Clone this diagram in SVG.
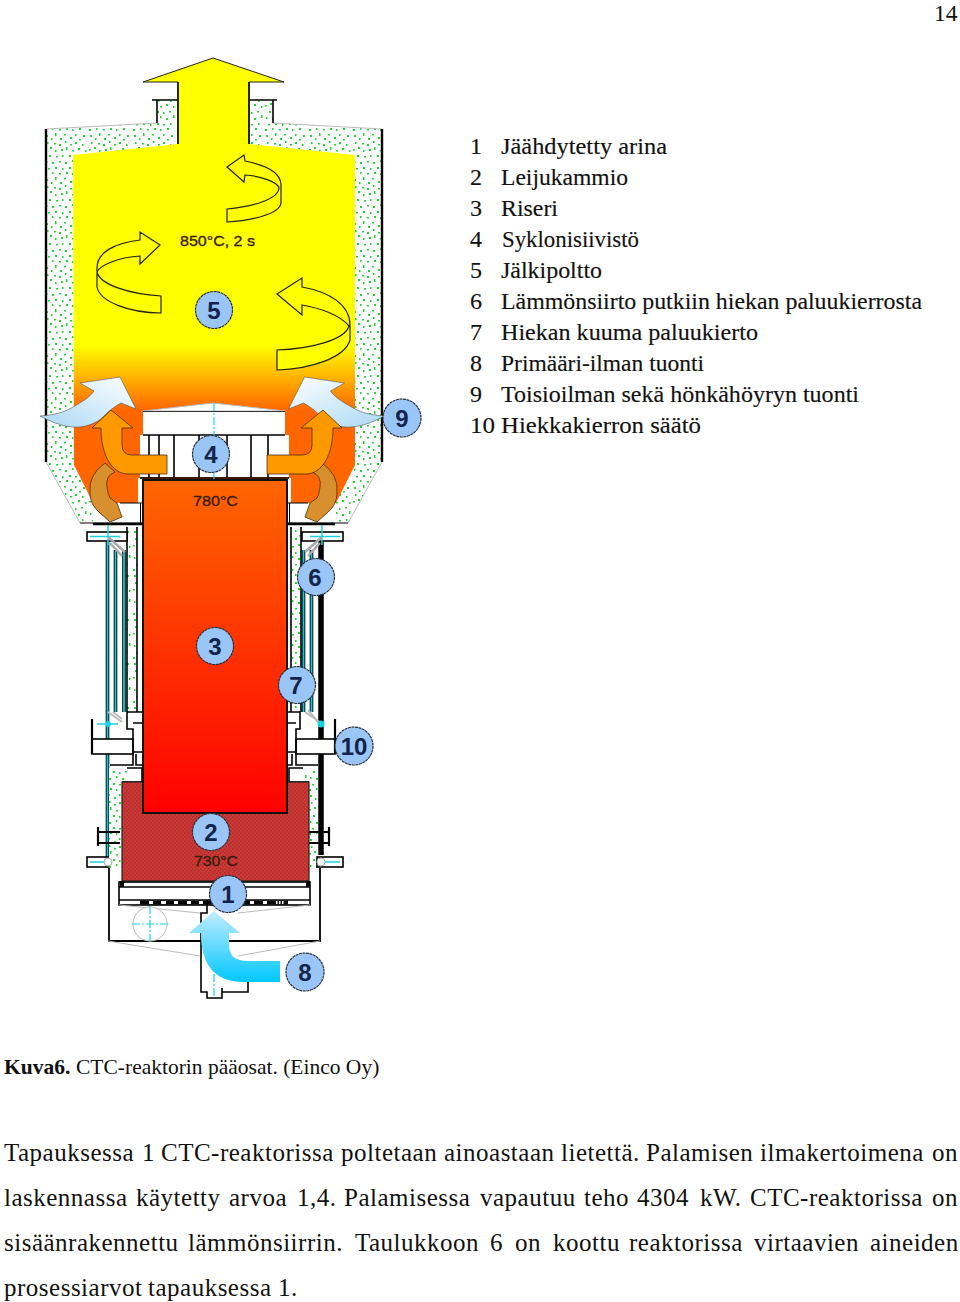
<svg xmlns="http://www.w3.org/2000/svg" width="960" height="1302" viewBox="0 0 960 1302">
<style>
.k{stroke:#000;fill:none;stroke-width:1.6}
.kw{stroke:#000;fill:#fff;stroke-width:1.6}
.g{stroke:#bbb;fill:none;stroke-width:1}
.c{stroke:#19d3e0;fill:none;stroke-width:1.5}
.cd{stroke:#19d3e0;fill:none;stroke-width:1.2;stroke-dasharray:8 2 2 2}
.sw{fill:#ffff00;stroke:#222;stroke-width:1.2}
.ba{fill:#99c6f7;stroke:#2a3340;stroke-width:1.2;stroke-dasharray:3 .6}
.bt{font:bold 24px "Liberation Sans",Arial,sans-serif;fill:#14234a;text-anchor:middle}
.t{font:15px "Liberation Sans",Arial,sans-serif;fill:#3a1c10;stroke:#3a1c10;stroke-width:.35}
.l{font:24px "Liberation Serif","Times New Roman",serif;fill:#111;stroke:#111;stroke-width:.15}
.b{font:25px "Liberation Serif","Times New Roman",serif;fill:#111;letter-spacing:.5px}
.cap{font:21.500px "Liberation Serif","Times New Roman",serif;fill:#111}
</style>
<defs>
<pattern id="sp" width="44" height="44" patternUnits="userSpaceOnUse">
<rect width="44" height="44" fill="#fdfdfd"/>
<g fill="#22d436">
<rect x="2" y="3" width="2" height="2"/><rect x="7" y="6" width="1.500" height="2"/><rect x="11" y="1" width="1.500" height="3"/><rect x="16" y="6" width="2" height="2"/><rect x="20" y="2" width="2" height="1.500"/><rect x="26" y="5" width="2" height="2"/><rect x="31" y="2" width="1.500" height="2"/><rect x="35" y="7" width="2" height="1.500"/><rect x="39" y="3" width="2" height="2"/>
<rect x="3" y="10" width="1.500" height="2"/><rect x="10" y="11" width="2" height="1.500"/><rect x="15" y="12" width="2" height="2"/><rect x="21" y="9" width="1.500" height="2"/><rect x="26" y="12" width="2" height="1.500"/><rect x="31" y="10" width="2" height="2"/><rect x="38" y="12" width="1.500" height="2"/>
<rect x="1" y="17" width="2" height="1.500"/><rect x="6" y="15" width="2" height="2"/><rect x="11" y="18" width="1.500" height="2"/><rect x="17" y="17" width="2" height="2"/><rect x="22" y="15" width="1.500" height="3"/><rect x="28" y="18" width="2" height="1.500"/><rect x="34" y="16" width="2" height="2"/><rect x="41" y="18" width="1.500" height="2"/>
<rect x="5" y="23" width="2" height="2"/><rect x="12" y="24" width="2" height="1.500"/><rect x="18" y="23" width="1.500" height="2"/><rect x="25" y="23" width="2" height="2"/><rect x="31" y="24" width="1.500" height="2"/><rect x="37" y="23" width="2" height="1.500"/>
<rect x="2" y="29" width="1.500" height="2"/><rect x="8" y="30" width="2" height="2"/><rect x="15" y="29" width="2" height="1.500"/><rect x="21" y="30" width="2" height="2"/><rect x="28" y="28" width="1.500" height="2"/><rect x="34" y="30" width="2" height="2"/><rect x="41" y="27" width="1.500" height="3"/>
<rect x="4" y="36" width="2" height="1.500"/><rect x="11" y="35" width="2" height="2"/><rect x="18" y="36" width="1.500" height="2"/><rect x="25" y="35" width="2" height="2"/><rect x="31" y="36" width="2" height="1.500"/><rect x="38" y="35" width="1.500" height="2"/>
<rect x="1" y="41" width="2" height="2"/><rect x="8" y="40" width="1.500" height="2"/><rect x="15" y="41" width="2" height="1.500"/><rect x="22" y="40" width="2" height="2"/><rect x="28" y="41" width="1.500" height="2"/><rect x="35" y="40" width="2" height="2"/>
</g>
</pattern>
<pattern id="bed" width="4" height="4" patternUnits="userSpaceOnUse">
<rect width="4" height="4" fill="#cc3a36"/><rect x="0" y="0" width="1.600" height="1.600" fill="#b02a2c"/><rect x="2" y="2" width="1.600" height="1.600" fill="#b02a2c"/>
</pattern>
<linearGradient id="ch" gradientUnits="userSpaceOnUse" x1="0" y1="345" x2="0" y2="410">
<stop offset="0" stop-color="#ffff00"/><stop offset="1" stop-color="#ff6600"/>
</linearGradient>
<linearGradient id="ri" x1="0" y1="0" x2="0" y2="1">
<stop offset="0" stop-color="#ff6600"/><stop offset="1" stop-color="#ff0000"/>
</linearGradient>
<linearGradient id="cold" x1="0" y1="0" x2="0" y2="1">
<stop offset="0" stop-color="#c4ecff"/><stop offset="1" stop-color="#00c8ff"/>
</linearGradient>
<linearGradient id="air" x1="0" y1="1" x2="1" y2="0">
<stop offset="0" stop-color="#a9d8f5"/><stop offset="1" stop-color="#ffffff"/>
</linearGradient>
<path id="oa" d="M111 410 L133 428 L122 428 L122 445 Q122 455 132 455 L167 455 L167 474 L128 474 C112 474 101 455 101 428 L92 428 Z" fill="#ff9900" stroke="#4a3010" stroke-width=".8"/>
<path id="ba" d="M105 463 L115 472 Q105 476 107 487 Q108 495 110 498 L117 503 L122 517 L110 522 L100 513 Q90 505 90 493 Q88 475 105 463 Z" fill="#d8902e" stroke="#4a3010" stroke-width=".8"/>
<path id="aa" d="M40 416 C55 415 65 412 73 407 C82 402 90 397 94 391 L80 383 L120 377 L136 409 L121 403 C112 408 107 413 103 417 C97 423 85 428 73 427 C60 426 50 421 40 416 Z" fill="url(#air)" stroke="#555" stroke-width=".6"/>
</defs>
<rect width="960" height="1302" fill="#fff"/>

<g id="reactor">
<path d="M46 129 L157 123 L157 100 L273 100 L273 123 L382 129 L382 462 L348 523 L80 523 L46 462 Z" fill="url(#sp)"/>
<path d="M46 129 L157 123 M273 123 L382 129 M46 462 L80 523 M382 462 L348 523" class="g" stroke-width="1.500"/>
<path d="M46 129 V462 M382 129 V462" stroke="#000" stroke-width="2.400" fill="none"/>
<path d="M157 100 V123 M273 100 V123 M152 100 H178 M249 100 H277" class="k"/>
<path id="chamber" d="M73 155 L178 144 L178 82 L143 82 L213 58 L284 82 L249 82 L249 144 L355 155 L355 465 L336 503 L93 503 L74 465 Z" fill="url(#ch)"/>
<path d="M178 82 V144 M249 82 V144" stroke="#111" stroke-width="1.800" fill="none"/>
<path d="M143 82 H178 M249 82 H284 M143 82 L213 58 L284 82" stroke="#222" stroke-width="1" fill="none"/>

<rect x="93" y="503" width="50" height="20" fill="#fff"/>
<rect x="287" y="503" width="49" height="20" fill="#fff"/>
<rect x="138" y="478" width="5" height="26" fill="#fff"/>
<rect x="287" y="478" width="4" height="26" fill="#fff"/>
<path d="M80 523 H142 M287 523 H348" stroke="#000" stroke-width="1"/>
<path d="M93 524 H142 M288 524 H335" stroke="#000" stroke-width="2.400"/>
<path d="M120 503 H142 M288 503 H308 M140.500 503 V523 M289.500 503 V523" stroke="#000" stroke-width="1"/>

<path d="M143 411 L213 403 L285 411 Z" fill="#fff" stroke="#bbb" stroke-width="1"/>
<rect x="143" y="411" width="142" height="24" fill="#fff"/>
<path d="M143 411.500 H285" stroke="#333" stroke-width="1"/>
<rect x="140" y="435" width="149" height="42" fill="#fff"/>
<path d="M143 435 H285 M140 478 H289 M149 435 V478 M159 435 V478 M174 435 V478 M199 435 V478 M227 435 V478 M251 435 V478 M268 435 V478" class="k"/>
<path d="M214 403 V480" class="cd"/>

<rect x="127" y="527" width="10" height="185" fill="url(#sp)"/>
<rect x="292" y="527" width="9" height="185" fill="url(#sp)"/>
<path d="M127 527 V712 M137 527 V712 M291 527 V712 M301 527 V712" class="k" stroke-width="1.200"/>
<path d="M107.500 541 V860 M115.500 550 V712 M124 550 V712 M303.500 550 V712 M311.500 550 V712" stroke="#000" stroke-width="3.600" fill="none"/>
<path d="M107.500 541 V860 M115.500 550 V712 M124 550 V712 M303.500 550 V712 M311.500 550 V712" stroke="#19c8d4" stroke-width="1.800" fill="none"/>
<path d="M321 541 V855" stroke="#000" stroke-width="5.500"/>
<rect x="87" y="532" width="40" height="9" class="kw"/>
<rect x="302" y="532" width="41" height="9" class="kw"/>
<path d="M90 536.500 H120 M310 536.500 H340 M108 525 V545 M322 525 V545" class="c"/>
<path d="M108 537 L125 552 M110 543 L122 556 M322 537 L305 552 M320 543 L308 556" stroke="#aaa" stroke-width="2.500" fill="none"/>
<path d="M108 712 L122 722 M113 712 L122 719 M321 723 L305 712 M318 722 L308 710" stroke="#bbb" stroke-width="2" fill="none"/>

<rect x="92" y="739" width="41" height="15" class="kw"/>
<path d="M92 719 V754 M127 712 H142 M127 712 V729 H133 V765 H110 M133 723 H142 M133 752 H142 M136 754 V765 H142" class="k"/>
<path d="M92 719 V754" stroke="#000" stroke-width="2.200"/>
<path d="M97 724 H118" class="c"/>
<circle cx="108" cy="724" r="3" fill="#19d3e0"/>
<rect x="296" y="739" width="39" height="15" class="kw"/>
<path d="M288 712 H300 V729 H296 V765 H318 M288 723 H296 M288 752 H296 M292 754 V765 H288" class="k"/>
<path d="M335 719 V754" stroke="#000" stroke-width="2.200"/>
<circle cx="321" cy="724" r="3.500" fill="#19d3e0"/>
<rect x="109" y="768" width="18" height="100" fill="url(#sp)"/>
<rect x="303" y="768" width="15" height="100" fill="url(#sp)"/>
<path d="M127 768 H142 V782 H122 M303 768 H289 V782 H309" class="k" stroke-width="1"/>

<rect x="122" y="782" width="187" height="99" fill="url(#bed)" stroke="#222" stroke-width="1.200"/>
<rect x="143" y="480" width="144" height="333" fill="url(#ri)" stroke="#111" stroke-width="2"/>

<path d="M98 827 V846 M98 832 H120 M98 843 H120 M329 827 V846 M309 832 H329 M309 843 H329" stroke="#000" stroke-width="2.200" fill="none"/>
<rect x="87" y="857" width="21" height="10" class="kw"/>
<rect x="317" y="857" width="26" height="10" class="kw"/>
<path d="M90 862 H108 M320 862 H340" class="c"/>
<circle cx="108" cy="862" r="4" fill="#fff" stroke="#aaa" stroke-width="1"/>
<circle cx="321" cy="862" r="4" fill="#fff" stroke="#aaa" stroke-width="1"/>

<path d="M109 868 V941 H320 V868" stroke="#000" stroke-width="1.800" fill="none"/>
<rect x="119" y="882" width="191" height="23" class="kw"/>
<rect x="120" y="881" width="4" height="6" fill="#000"/>
<rect x="306" y="881" width="4" height="6" fill="#000"/>
<path d="M119 887 H310" stroke="#000" stroke-width="1.500"/>
<path d="M119 900 H310" stroke="#000" stroke-width="1.500"/>
<rect x="140" y="900.500" width="148" height="4" fill="#000"/>
<g fill="#fff"><rect x="149" y="901" width="4" height="3"/><rect x="161" y="901" width="5" height="3"/><rect x="174" y="901" width="4" height="3"/><rect x="187" y="901" width="4" height="3"/><rect x="199" y="901" width="4" height="3"/><rect x="250" y="901" width="4" height="3"/><rect x="263" y="901" width="4" height="3"/><rect x="276" y="901" width="1.500" height="3"/><rect x="279" y="901" width="1.500" height="3"/><rect x="282" y="901" width="1.500" height="3"/></g>
<path d="M119 905 L200 913 M310 905 L238 913 M108 941 L200 956 M320 941 L238 956" class="g"/>
<circle cx="150" cy="924" r="17" fill="#fff" stroke="#bbb" stroke-width="1"/>
<path d="M132 924 H170 M150 906 V943" class="cd"/>
<rect x="201" y="913" width="20" height="79" fill="#fff"/>
<path d="M207 900 V913 H201 V992 H207 V998 H222 V992 H248 V982 M222 992 V988" class="k"/>
<path d="M214 960 V998" class="cd"/>
</g>

<g id="connectors">
<path d="M214 911 L240 933 L229 933 L229 945 Q229 961 248 961 L280 961 L280 982 L244 982 Q201 982 201 933 L189 933 Z" fill="url(#cold)"/>
<use href="#aa"/><use href="#aa" transform="translate(424.500,0) scale(-1,1)"/>
<use href="#ba"/><use href="#ba" transform="translate(427,0) scale(-1,1)"/>
<use href="#oa"/><use href="#oa" transform="translate(434,0) scale(-1,1)"/>
<path class="sw" d="M227 167 L244 155 L245 161 C265 165 281 172 281 185 L281 203 C280 214 250 221 227 222 L227 209 C250 207 278 200 279 188 C278 182 260 176 245 175 L244 182 Z"/>
<path class="sw" d="M160 245 L140 232 L140 240 C115 243 97 252 97 268 L97 287 C100 302 130 313 161 313 L161 296 C130 294 100 285 97 272 C100 265 120 257 140 256 L140 264 Z"/>
<path class="sw" d="M277 294 L302 278 L302 287 C330 292 350 305 350 325 L350 340 C345 358 310 369 277 370 L277 350 C310 349 345 340 349 326 C340 315 320 308 302 305 L302 315 Z"/>
</g>

<g id="temperatures">
<text class="t" x="180" y="246" textLength="75" lengthAdjust="spacingAndGlyphs">850°C, 2 s</text>
<text class="t" x="193" y="506" textLength="45" lengthAdjust="spacingAndGlyphs">780°C</text>
<text class="t" x="194" y="866" textLength="44" lengthAdjust="spacingAndGlyphs">730°C</text>
</g>

<g id="n1"><circle class="ba" cx="228" cy="894" r="18.500"/><text class="bt" x="228" y="903">1</text></g>
<g id="n2"><circle class="ba" cx="211" cy="832" r="18.500"/><text class="bt" x="211" y="841">2</text></g>
<g id="n3"><circle class="ba" cx="215" cy="646" r="18.500"/><text class="bt" x="215" y="655">3</text></g>
<g id="n4"><circle class="ba" cx="211" cy="454" r="18.500"/><text class="bt" x="211" y="463">4</text></g>
<g id="n5"><circle class="ba" cx="214" cy="310" r="18.500"/><text class="bt" x="214" y="319">5</text></g>
<g id="n6"><circle class="ba" cx="316" cy="577" r="18.500"/><text class="bt" x="315" y="586">6</text></g>
<g id="n7"><circle class="ba" cx="297" cy="685" r="18.500"/><text class="bt" x="296" y="694">7</text></g>
<g id="n8"><circle class="ba" cx="305" cy="972" r="19"/><text class="bt" x="305" y="981">8</text></g>
<g id="n9"><circle class="ba" cx="402" cy="418" r="19"/><text class="bt" x="402" y="427">9</text></g>
<g id="n10"><circle class="ba" cx="354" cy="746" r="19"/><text class="bt" x="354" y="755">10</text></g>

<g id="legend">
<text class="l" x="470" y="154">1</text><text class="l" x="501" y="154" textLength="166" lengthAdjust="spacingAndGlyphs">Jäähdytetty arina</text>
<text class="l" x="470" y="185">2</text><text class="l" x="501" y="185" textLength="127" lengthAdjust="spacingAndGlyphs">Leijukammio</text>
<text class="l" x="470" y="216">3</text><text class="l" x="501" y="216" textLength="57" lengthAdjust="spacingAndGlyphs">Riseri</text>
<text class="l" x="470" y="247">4</text><text class="l" x="502" y="247" textLength="137" lengthAdjust="spacingAndGlyphs">Syklonisiivistö</text>
<text class="l" x="470" y="278">5</text><text class="l" x="501" y="278" textLength="101" lengthAdjust="spacingAndGlyphs">Jälkipoltto</text>
<text class="l" x="470" y="309">6</text><text class="l" x="501" y="309" textLength="421" lengthAdjust="spacingAndGlyphs">Lämmönsiirto putkiin hiekan paluukierrosta</text>
<text class="l" x="470" y="340">7</text><text class="l" x="501" y="340" textLength="257" lengthAdjust="spacingAndGlyphs">Hiekan kuuma paluukierto</text>
<text class="l" x="470" y="371">8</text><text class="l" x="501" y="371" textLength="203" lengthAdjust="spacingAndGlyphs">Primääri-ilman tuonti</text>
<text class="l" x="470" y="402">9</text><text class="l" x="501" y="402" textLength="358" lengthAdjust="spacingAndGlyphs">Toisioilman sekä hönkähöyryn tuonti</text>
<text class="l" x="470" y="433" textLength="25" lengthAdjust="spacingAndGlyphs">10</text><text class="l" x="501" y="433" textLength="200" lengthAdjust="spacingAndGlyphs">Hiekkakierron säätö</text>
</g>

<g id="page-text">
<text x="934" y="21" style="font:23.500px 'Liberation Serif','Times New Roman',serif;fill:#111">14</text>
<text class="cap" x="4" y="1074"><tspan font-weight="bold">Kuva6.</tspan><tspan x="76">CTC-reaktorin pääosat. (Einco Oy)</tspan></text>
<text class="b" y="1161"><tspan x="4">Tapauksessa</tspan><tspan x="142">1</tspan><tspan x="161">CTC-reaktorissa</tspan><tspan x="341">poltetaan</tspan><tspan x="444">ainoastaan</tspan><tspan x="561">lietettä.</tspan><tspan x="646">Palamisen</tspan><tspan x="760">ilmakertoimena</tspan><tspan x="932">on</tspan></text>
<text class="b" y="1206"><tspan x="4">laskennassa</tspan><tspan x="136">käytetty</tspan><tspan x="229">arvoa</tspan><tspan x="297">1,4.</tspan><tspan x="344">Palamisessa</tspan><tspan x="480">vapautuu</tspan><tspan x="584">teho</tspan><tspan x="637">4304</tspan><tspan x="700">kW.</tspan><tspan x="750">CTC-reaktorissa</tspan><tspan x="932">on</tspan></text>
<text class="b" y="1251"><tspan x="4">sisäänrakennettu</tspan><tspan x="188">lämmönsiirrin.</tspan><tspan x="355">Taulukkoon</tspan><tspan x="490">6</tspan><tspan x="515">on</tspan><tspan x="553">koottu</tspan><tspan x="629">reaktorissa</tspan><tspan x="754">virtaavien</tspan><tspan x="870">aineiden</tspan></text>
<text class="b" y="1296"><tspan x="4">prosessiarvot</tspan><tspan x="148">tapauksessa</tspan><tspan x="278">1.</tspan></text>
</g>
</svg>
